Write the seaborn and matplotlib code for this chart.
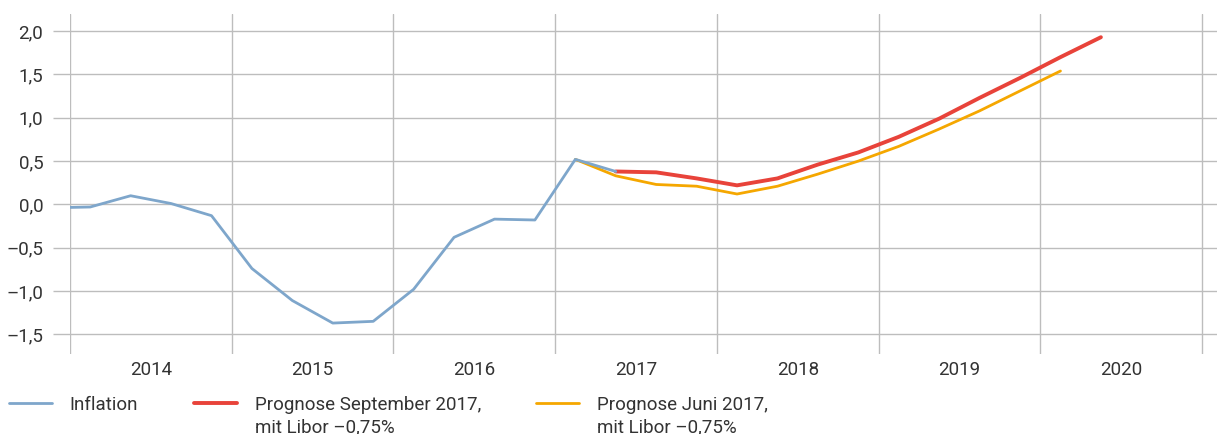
import matplotlib
matplotlib.use("Agg")
import matplotlib.pyplot as plt
import pandas as pd
import seaborn as sns

# quarterly values
inflation_quarters = ["2013Q4",
                      "2014Q1", "2014Q2", "2014Q3", "2014Q4",
                      "2015Q1", "2015Q2", "2015Q3", "2015Q4",
                      "2016Q1", "2016Q2", "2016Q3", "2016Q4",
                      "2017Q1", "2017Q2"]
inflation = [-0.04, -0.03, 0.10, 0.01, -0.13, -0.74, -1.11, -1.37, -1.35,
             -0.98, -0.38, -0.17, -0.18, 0.52, 0.38]

sep_quarters = ["2017Q2", "2017Q3", "2017Q4",
                "2018Q1", "2018Q2", "2018Q3", "2018Q4",
                "2019Q1", "2019Q2", "2019Q3", "2019Q4",
                "2020Q1", "2020Q2"]
prognose_sep = [0.38, 0.37, 0.30, 0.22, 0.30, 0.46, 0.60, 0.78, 0.99, 1.23,
                1.46, 1.70, 1.93]

jun_quarters = ["2017Q1", "2017Q2", "2017Q3", "2017Q4",
                "2018Q1", "2018Q2", "2018Q3", "2018Q4",
                "2019Q1", "2019Q2", "2019Q3", "2019Q4",
                "2020Q1"]
prognose_jun = [0.52, 0.33, 0.23, 0.21, 0.12, 0.21, 0.35, 0.50, 0.67, 0.87,
                1.08, 1.31, 1.54]

years = [2014, 2015, 2016, 2017, 2018, 2019, 2020]
y_ticks = [-1.5, -1.0, -0.5, 0.0, 0.5, 1.0, 1.5, 2.0]

labels = ["Inflation", "Prognose September 2017,", "Prognose Juni 2017,"]
sublabels = ["", "mit Libor –0,75%", "mit Libor –0,75%"]
colors = ["#7ea6cb", "#e8433a", "#f5a700"]


def to_frame(quarters, values):
    # place each quarter at its centre on a decimal-year axis
    x = [int(q[:4]) + (int(q[-1]) - 0.5) / 4 for q in quarters]
    return pd.DataFrame({"x": x, "value": values})


sns.set_style("white")
plt.rcParams["font.family"] = ["Roboto", "DejaVu Sans"]
fs = 13.5
txt_color = "#333333"

fig = plt.figure(figsize=(12.17, 4.34), dpi=100)
ax = fig.add_axes([70 / 1217, 80 / 434, 1147 / 1217, 340 / 434])

sns.lineplot(data=to_frame(jun_quarters, prognose_jun), x="x", y="value",
             ax=ax, color=colors[2], linewidth=2.0, label=labels[2])
sns.lineplot(data=to_frame(sep_quarters, prognose_sep), x="x", y="value",
             ax=ax, color=colors[1], linewidth=2.8, label=labels[1])
sns.lineplot(data=to_frame(inflation_quarters, inflation), x="x", y="value",
             ax=ax, color=colors[0], linewidth=2.0, label=labels[0])

ax.set_xlim(2014, 2021.093)
ax.set_ylim(-1.727, 2.198)

# horizontal lines reach a bit past the left edge, done with long ticks
ax.set_yticks(y_ticks)
ax.set_yticklabels([f"{v:.1f}".replace(".", ",").replace("-", "–") for v in y_ticks])
ax.tick_params(axis="y", length=12.2, width=1, color="#bdbdbd", pad=7,
               labelsize=fs, labelcolor=txt_color, left=True)
ax.yaxis.grid(True, color="#bdbdbd", linewidth=1)

# vertical year separators, labels centred in each year
for yr in years + [years[-1] + 1]:
    ax.axvline(yr, color="#bdbdbd", linewidth=1, zorder=0.5)
ax.set_xticks([yr + 0.5 for yr in years])
ax.set_xticklabels([str(yr) for yr in years])
ax.tick_params(axis="x", length=0, pad=5, labelsize=fs, labelcolor=txt_color)

ax.set_xlabel("")
ax.set_ylabel("")
for side in ax.spines.values():
    side.set_visible(False)

handles, texts = ax.get_legend_handles_labels()
order = [texts.index(l) for l in labels]
ax.get_legend().remove()
leg = fig.legend([handles[i] for i in order], [texts[i] for i in order],
                 loc="center left", bbox_to_anchor=(3 / 1217, 1 - 405 / 434), ncol=3,
                 frameon=False, fontsize=fs, labelcolor=txt_color,
                 handlelength=2.3, handletextpad=0.96, columnspacing=2.95,
                 borderaxespad=0, borderpad=0.3)

# second line of the forecast labels sits under the first one
fig.canvas.draw()
for t, sub in zip(leg.get_texts(), sublabels):
    if sub:
        bb = t.get_window_extent()
        fig.text(bb.x0 / fig.bbox.width, 1 - 427 / 434, sub, fontsize=fs,
                 color=txt_color, va="center", ha="left")

fig.savefig("out.png", dpi=100)
